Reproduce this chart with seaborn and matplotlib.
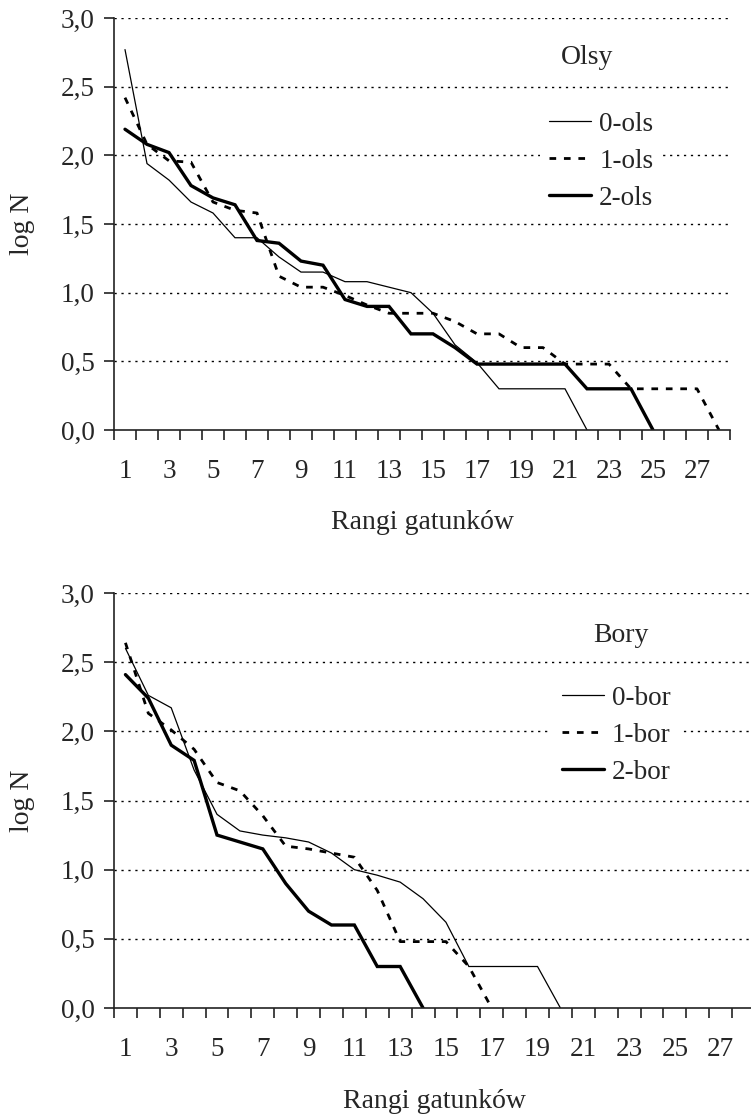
import numpy as np
import pandas as pd
import matplotlib
matplotlib.use("Agg")
import matplotlib.pyplot as plt
import seaborn as sns

# ---------------- data ----------------
ols_0 = [2.77, 1.94, 1.82, 1.66, 1.58, 1.40, 1.40, 1.26, 1.15, 1.15, 1.08, 1.08, 1.04, 1.00,
         0.85, 0.62, 0.49, 0.30, 0.30, 0.30, 0.30, 0.00]
ols_1 = [2.42, 2.08, 1.96, 1.95, 1.66, 1.60, 1.58, 1.12, 1.04, 1.04, 0.98, 0.91, 0.85, 0.85,
         0.85, 0.79, 0.70, 0.70, 0.60, 0.60, 0.48, 0.48, 0.48, 0.30, 0.30, 0.30, 0.30, 0.00]
ols_2 = [2.19, 2.08, 2.02, 1.78, 1.69, 1.64, 1.38, 1.36, 1.23, 1.20, 0.95, 0.90, 0.90, 0.70,
         0.70, 0.60, 0.48, 0.48, 0.48, 0.48, 0.48, 0.30, 0.30, 0.30, 0.00]

bor_0 = [2.60, 2.26, 2.17, 1.72, 1.40, 1.28, 1.25, 1.23, 1.20, 1.12, 1.00, 0.96, 0.91, 0.79,
         0.62, 0.30, 0.30, 0.30, 0.30, 0.00]
bor_1 = [2.64, 2.13, 2.01, 1.87, 1.63, 1.57, 1.39, 1.17, 1.15, 1.12, 1.09, 0.85, 0.48, 0.48,
         0.48, 0.30, 0.00]
bor_2 = [2.41, 2.24, 1.90, 1.79, 1.25, 1.20, 1.15, 0.90, 0.70, 0.60, 0.60, 0.30, 0.30, 0.00]

n_ranks = 28
rank_labels = [str(r) for r in range(1, 28, 2)]
y_ticks = [0.0, 0.5, 1.0, 1.5, 2.0, 2.5, 3.0]
y_ticklabels = ["0,0", "0,5", "1,0", "1,5", "2,0", "2,5", "3,0"]

panels = [
    ("Olsy", [("0-ols", ols_0), ("1-ols", ols_1), ("2-ols", ols_2)]),
    ("Bory", [("0-bor", bor_0), ("1-bor", bor_1), ("2-bor", bor_2)]),
]

# ---------------- style ----------------
sns.set_theme(style="white")
plt.rcParams["font.family"] = ["Liberation Serif", "DejaVu Serif"]
FS_TICK = 19.5
FS_LAB = 20
FS_LEG = 19.5

styles = [
    dict(lw=0.9, ls="-"),
    dict(lw=2.0, ls=(0, (2.4, 2.8))),
    dict(lw=2.4, ls="-"),
]

fig = plt.figure(figsize=(7.51, 11.15), dpi=100)
W, H = 751, 1115
ax_boxes = [
    # left px, right px, top px, bottom px
    (114, 730, 18, 430),
    (114, 755, 593, 1008),
]
text_pos = [(0.768, 0.905), (0.791, 0.897)]
leg_anchor = [(0.691, 0.795), (0.684, 0.799)]

for k, ((title, series), box) in enumerate(zip(panels, ax_boxes)):
    l, r, t, b = box
    ax = fig.add_axes([l / W, 1 - b / H, (r - l) / W, (b - t) / H])
    handles = []
    for (name, vals), st in zip(series, styles):
        df = pd.DataFrame({"rank": np.arange(1, len(vals) + 1), "logN": vals})
        sns.lineplot(data=df, x="rank", y="logN", ax=ax, color="black",
                     linewidth=st["lw"], linestyle=st["ls"], label=name,
                     legend=False, solid_joinstyle="miter")
        handles.append(ax.get_lines()[-1])

    ax.set_xlim(0.5, n_ranks + 0.5)
    ax.set_ylim(0, 3.0)

    # grid
    for yv in y_ticks[1:]:
        ax.axhline(yv, color="black", lw=1.0, ls=(0, (1.6, 3.4)), zorder=0)

    # spines
    for s in ["top", "right"]:
        ax.spines[s].set_visible(False)
    for s in ["left", "bottom"]:
        ax.spines[s].set_color("#222222")
        ax.spines[s].set_linewidth(1.2)

    # y ticks
    ax.set_yticks(y_ticks)
    ax.set_yticklabels(y_ticklabels, fontsize=FS_TICK)
    ax.tick_params(axis="y", direction="out", length=7, width=1.2, color="#222222",
                   pad=7, left=True)

    # x ticks: marks between categories, labels at category centers
    ax.set_xticks(np.arange(0.5, n_ranks + 1, 1.0))
    ax.set_xticklabels([])
    ax.set_xticks(np.arange(1, 28, 2), minor=True)
    ax.set_xticklabels(rank_labels, minor=True, fontsize=FS_TICK)
    ax.tick_params(axis="x", which="major", direction="out", length=7, width=1.2,
                   color="#222222", bottom=True)
    ax.tick_params(axis="x", which="minor", length=0, pad=21, bottom=True)

    ax.set_xlabel("Rangi gatunków", fontsize=FS_LAB)
    ax.set_ylabel("log N", fontsize=FS_LAB)
    ax.xaxis.set_label_coords(0.5, -0.195)
    ax.yaxis.set_label_coords(-0.128 * 616 / (r - l), 0.5)

    ax.text(text_pos[k][0], text_pos[k][1], title, transform=ax.transAxes,
            fontsize=FS_LAB, ha="center", va="center")

    leg = ax.legend(handles=handles, labels=[s[0] for s in series], loc="upper left",
                    bbox_to_anchor=leg_anchor[k], frameon=True, fontsize=FS_LEG,
                    handlelength=1.55, handletextpad=0.3, labelspacing=0.44,
                    borderpad=0.35, borderaxespad=0, fancybox=False)
    leg.get_frame().set_facecolor("white")
    leg.get_frame().set_edgecolor("none")
    leg.get_frame().set_alpha(1)

fig.savefig("out.png", dpi=100, facecolor="white")
